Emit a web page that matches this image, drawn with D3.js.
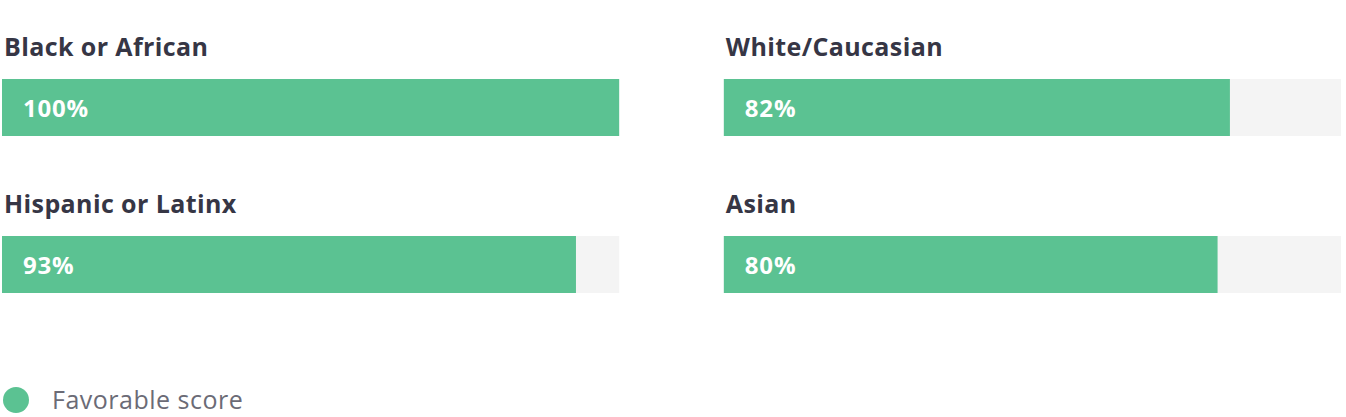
<!DOCTYPE html>
<html>
<head>
<meta charset="utf-8">
<script src="https://cdn.jsdelivr.net/npm/d3@7"></script>
<style>
  body { margin: 0; background: #fff; font-family: "Open Sans", sans-serif; }
</style>
</head>
<body>
<div id="chart"></div>
<script>

// groups, in reading order (left column then right column, row by row)
var groups = ['Black or African', 'White/Caucasian', 'Hispanic or Latinx', 'Asian'];
var favorable = [100, 82, 93, 80];
var legendLabel = 'Favorable score';

var width = 1346, height = 417;
var green = '#5bc292', track = '#f4f4f4';

var svg = d3.select('#chart').append('svg')
  .attr('width', width)
  .attr('height', height);

// two columns, two rows
var col = d3.scaleBand().domain([0, 1]).range([2, 1341]).paddingInner(0.145);
var row = d3.scalePoint().domain([0, 1]).range([79, 236]);
var x = d3.scaleLinear().domain([0, 100]).range([0, col.bandwidth()]);
var barH = 57;

var cell = svg.selectAll('g.cell')
  .data(groups.map(function(g, i) { return { name: g, value: favorable[i], c: i % 2, r: Math.floor(i / 2) }; }))
  .enter().append('g')
  .attr('class', 'cell')
  .attr('transform', function(d) { return 'translate(' + col(d.c) + ',' + row(d.r) + ')'; });

cell.append('rect')
  .attr('width', col.bandwidth())
  .attr('height', barH)
  .attr('fill', track);

cell.append('rect')
  .attr('width', function(d) { return x(d.value); })
  .attr('height', barH)
  .attr('fill', green);

cell.append('text')
  .attr('x', 2)
  .attr('y', -23)
  .attr('fill', '#363645')
  .style('font-size', '25px')
  .style('letter-spacing', '0.4px')
  .style('font-weight', 700)
  .text(function(d) { return d.name; });

cell.append('text')
  .attr('x', 21)
  .attr('y', 38)
  .attr('fill', '#fff')
  .style('font-size', '24px')
  .style('letter-spacing', '0.8px')
  .style('font-weight', 700)
  .text(function(d) { return d.value + '%'; });

// legend
var legend = svg.append('g').attr('transform', 'translate(16,400)');
legend.append('circle').attr('r', 13).attr('fill', green);
legend.append('text')
  .attr('x', 36)
  .attr('y', 9)
  .attr('fill', '#6b6b76')
  .style('font-size', '25px')
  .style('letter-spacing', '0.5px')
  .text(legendLabel);

</script>
</body>
</html>
